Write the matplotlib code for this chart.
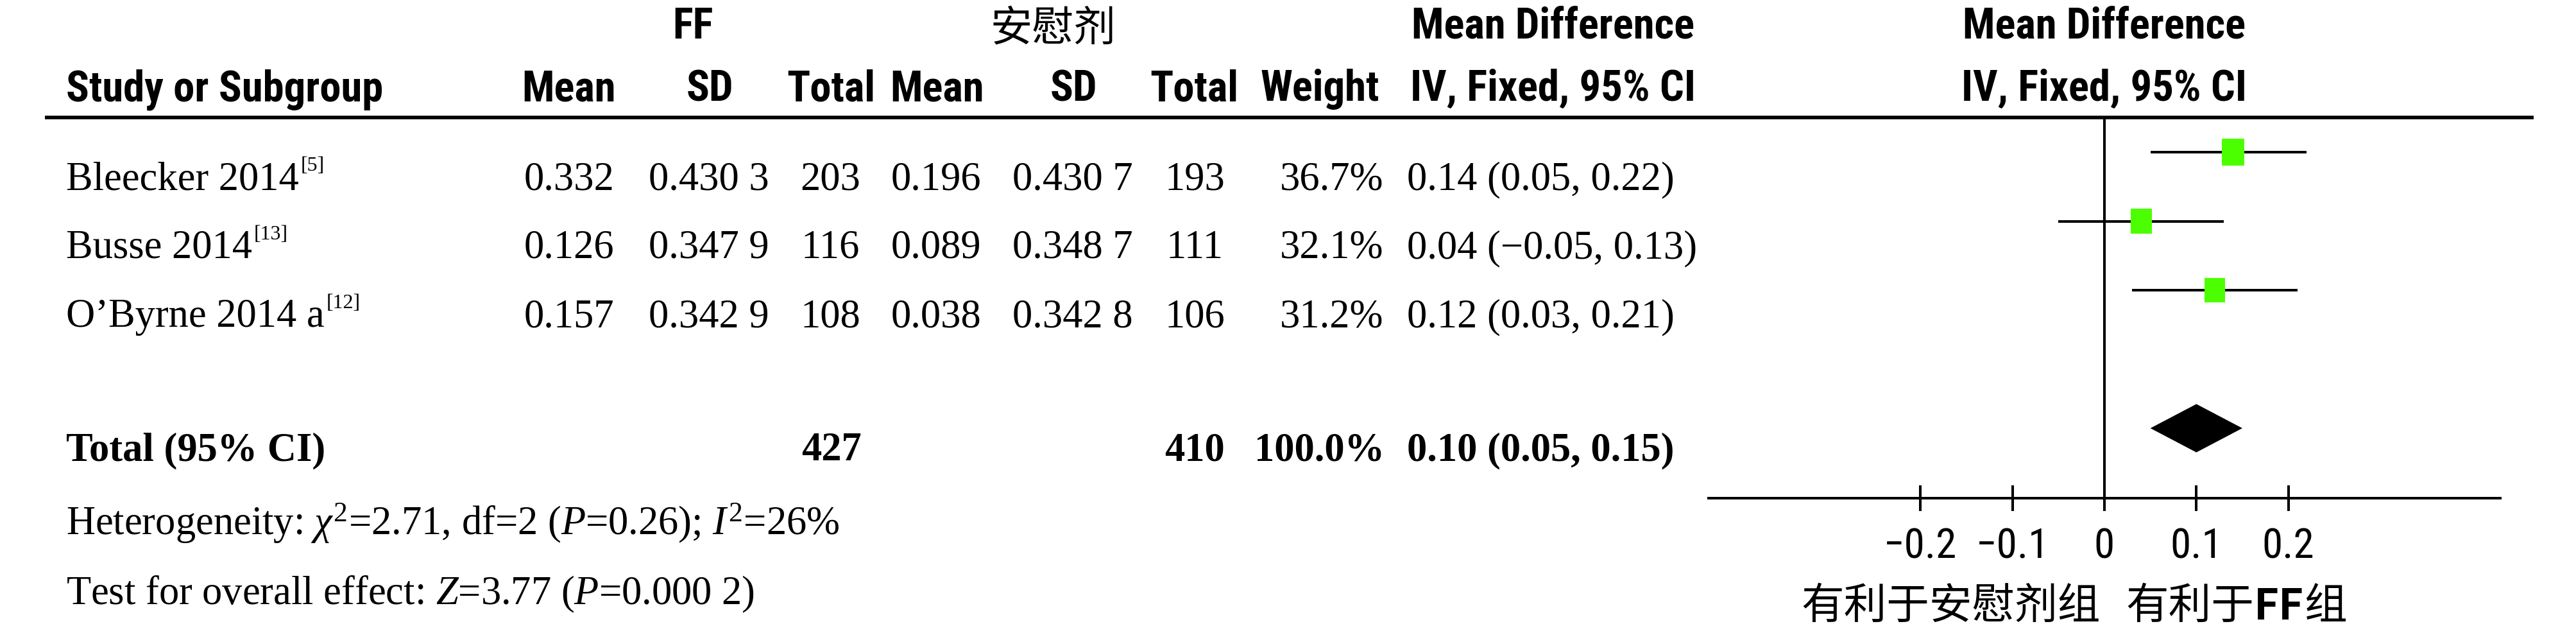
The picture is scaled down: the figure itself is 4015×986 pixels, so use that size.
import numpy as np
import matplotlib
matplotlib.use('Agg')
import matplotlib.pyplot as plt
from matplotlib import font_manager

# Study data
studies = ['Bleecker 2014', 'Busse 2014', 'O\u2019Byrne 2014 a']
refs = ['[5]', '[13]', '[12]']
ff_mean = ['0.332', '0.126', '0.157']
ff_sd = ['0.430 3', '0.347 9', '0.342 9']
ff_n = [203, 116, 108]
pl_mean = ['0.196', '0.089', '0.038']
pl_sd = ['0.430 7', '0.348 7', '0.342 8']
pl_n = [193, 111, 106]
weights = [36.7, 32.1, 31.2]
md = [0.14, 0.04, 0.12]
ci_lo = [0.05, -0.05, 0.03]
ci_hi = [0.22, 0.13, 0.21]

total_ff = 427
total_pl = 410
total_weight = 100.0
total_md = 0.10
total_lo = 0.05
total_hi = 0.15

het_text = r'Heterogeneity: $\chi^2$=2.71, df=2 ($P$=0.26); $I^2$=26%'
effect_text = r'Test for overall effect: $Z$=3.77 ($P$=0.000 2)'

ticks = [-0.2, -0.1, 0, 0.1, 0.2]
tick_labels = ['\u22120.2', '\u22120.1', '0', '0.1', '0.2']
favours_left = '有利于安慰剂组'
favours_right = ['有利于', 'FF', '组']

# Fonts
plt.rcParams['mathtext.fontset'] = 'custom'
plt.rcParams['mathtext.rm'] = 'Liberation Serif'
plt.rcParams['mathtext.it'] = 'Liberation Serif:italic'
plt.rcParams['mathtext.bf'] = 'Liberation Serif:bold'

names = {f.name for f in font_manager.fontManager.ttflist}
SANS, hsize = 'Liberation Sans', 41
for cand, size in [('Liberation Sans Narrow', 48), ('Arial Narrow', 48), ('Nimbus Sans Narrow', 48),
                   ('Roboto Condensed', 48), ('Open Sans Condensed', 44)]:
    if cand in names:
        SANS, hsize = cand, size
        break
SERIF = 'Liberation Serif'
CJK = ['Noto Sans CJK SC', 'DejaVu Sans']
bsize = 45


def fmt(v):
    return f'{v:.2f}'.replace('-', '\u2212')


W, H = 4016, 987
fig = plt.figure(figsize=(W / 100, H / 100), dpi=100)

# table area in pixel coordinates
tab = fig.add_axes([0, 0, 1, 1])
tab.set_xlim(0, W)
tab.set_ylim(H, 0)
tab.axis('off')

# header
h1, h2 = 60, 157
tab.text(1080, h1, 'FF', fontfamily=SANS, fontweight='bold', fontsize=hsize, ha='center', va='baseline')
tab.text(1641, 45, '安慰剂', fontfamily=CJK, fontweight='medium', fontsize=47, ha='center', va='center')
tab.text(2421, h1, 'Mean Difference', fontfamily=SANS, fontweight='bold', fontsize=hsize, ha='center', va='baseline')
tab.text(3280, h1, 'Mean Difference', fontfamily=SANS, fontweight='bold', fontsize=hsize, ha='center', va='baseline')

hdr = [(103, 'Study or Subgroup', 'left'), (887, 'Mean', 'center'), (1106, 'SD', 'center'),
       (1295, 'Total', 'center'), (1461, 'Mean', 'center'), (1673, 'SD', 'center'),
       (1861, 'Total', 'center'), (2150, 'Weight', 'right'), (2421, 'IV, Fixed, 95% CI', 'center'),
       (3280, 'IV, Fixed, 95% CI', 'center')]
for x, s, ha in hdr:
    tab.text(x, h2, s, fontfamily=SANS, fontweight='bold', fontsize=hsize, ha=ha, va='baseline')

tab.hlines(184, 70, 3949, color='black', lw=4)

# study rows
row_base = [295, 402, 509]
for i in range(len(studies)):
    y = row_base[i]
    t = tab.text(103, y, studies[i], fontfamily=SERIF, fontsize=bsize, va='baseline')
    tab.annotate(refs[i], xy=(1, 1), xycoords=t, xytext=(2, 5), textcoords='offset points',
                 fontfamily=SERIF, fontsize=23, va='top', ha='left')
    cells = [(887, ff_mean[i], 'center'), (1105, ff_sd[i], 'center'), (1294, str(ff_n[i]), 'center'),
             (1459, pl_mean[i], 'center'), (1672, pl_sd[i], 'center'), (1862, str(pl_n[i]), 'center'),
             (2156, f'{weights[i]:.1f}%', 'right'),
             (2193, f'{fmt(md[i])} ({fmt(ci_lo[i])}, {fmt(ci_hi[i])})', 'left')]
    for x, s, ha in cells:
        tab.text(x, y, s, fontfamily=SERIF, fontsize=bsize, ha=ha, va='baseline')

# total row
ty = 717
tot = [(103, 'Total (95% CI)', 'left'), (1296, str(total_ff), 'center'), (1862, str(total_pl), 'center'),
       (2158, f'{total_weight:.1f}%', 'right'),
       (2193, f'{fmt(total_md)} ({fmt(total_lo)}, {fmt(total_hi)})', 'left')]
for x, s, ha in tot:
    tab.text(x, ty, s, fontfamily=SERIF, fontweight='bold', fontsize=bsize, ha=ha, va='baseline')

tab.text(103, 833, het_text, fontfamily=SERIF, fontsize=bsize, va='baseline')
tab.text(103, 941, effect_text, fontfamily=SERIF, fontsize=bsize, va='baseline')

# forest plot
L, R, T, B = 2663, 3897, 184, 777
x0, xs = 3280, 1433
y0, ys = 238, 107.5
fax = fig.add_axes([L / W, 1 - B / H, (R - L) / W, (B - T) / H])
fax.set_facecolor('none')
fax.set_xlim((L - x0) / xs, (R - x0) / xs)
fax.set_ylim((B - y0) / ys, (T - y0) / ys)

rows = np.arange(len(studies))
fax.hlines(rows, ci_lo, ci_hi, color='black', lw=2.9, zorder=2)
rect = [(-0.83, -1), (0.83, -1), (0.83, 1), (-0.83, 1), (-0.83, -1)]
sizes = [(42 * np.sqrt(w / weights[0]) * 0.72) ** 2 for w in weights]
fax.scatter(md, rows, marker=rect, s=sizes, color='#4cff00', linewidths=0, zorder=3)

tr = len(studies) + 1
dh = 0.35
fax.fill([total_lo, total_md, total_hi, total_md], [tr, tr - dh, tr, tr + dh], color='black', lw=0, zorder=3)
fax.axvline(0, color='black', lw=2.9, zorder=1)

for s in ['top', 'left', 'right']:
    fax.spines[s].set_visible(False)
fax.spines['bottom'].set_linewidth(2.9)
fax.set_yticks([])
fax.set_xticks(ticks, tick_labels)
fax.tick_params(axis='x', direction='inout', length=29, width=2.9, pad=17, labelsize=hsize - 1)
for lab in fax.get_xticklabels():
    lab.set_fontfamily(SANS)

# favours labels
tab.text(3274, 945, favours_left, fontfamily=CJK, fontsize=48, ha='right', va='center')
f1 = tab.text(3313, 945, favours_right[0], fontfamily=CJK, fontsize=48, ha='left', va='center')
f2 = tab.annotate(favours_right[1], xy=(1, 0), xycoords=f1, fontfamily=CJK, fontweight='bold',
                  fontsize=48, ha='left', va='bottom')
tab.annotate(favours_right[2], xy=(1, 0), xycoords=f2, fontfamily=CJK, fontsize=48, ha='left', va='bottom')

fig.savefig('out.png', dpi=100)
